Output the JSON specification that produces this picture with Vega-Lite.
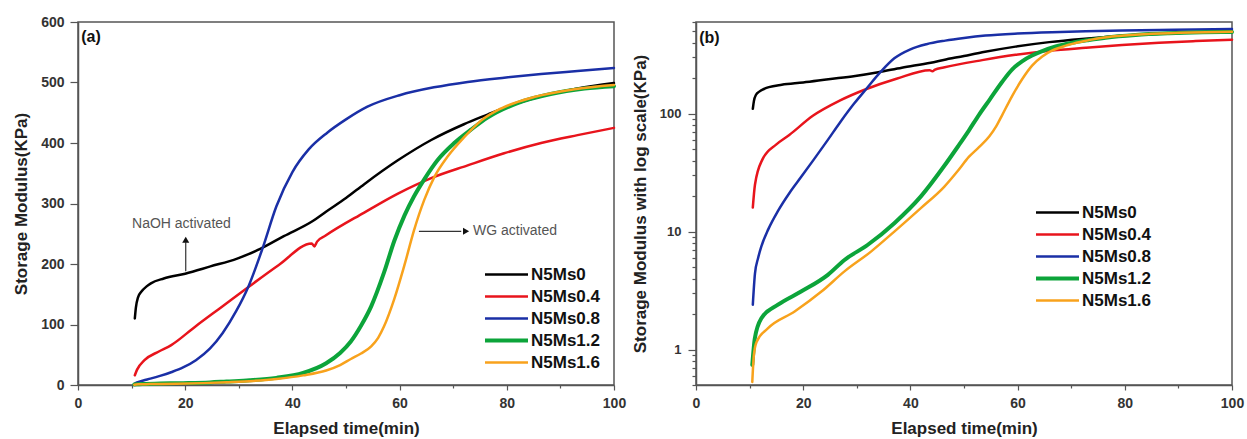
{
  "$schema": "https://vega.github.io/schema/vega-lite/v6.json",
  "padding": {"left": 11, "top": 14, "right": 0, "bottom": 2},
  "spacing": 3,
  "background": "white",
  "config": {
    "font": "Liberation Sans",
    "view": {"stroke": "#555", "strokeWidth": 1.5},
    "axis": {
      "grid": false,
      "domainColor": "#555",
      "domainWidth": 1.5,
      "tickColor": "#555",
      "tickWidth": 1.2,
      "labelFont": "Liberation Sans",
      "labelFontWeight": "bold",
      "labelFontSize": 14,
      "labelColor": "#333",
      "labelFlush": false,
      "labelOverlap": false,
      "titleFont": "Liberation Sans",
      "titleFontWeight": "bold",
      "titleFontSize": 17,
      "titleColor": "#222"
    },
    "legend": {
      "orient": "none",
      "title": null,
      "symbolType": "stroke",
      "symbolSize": 1849,
      "symbolStrokeWidth": 2.5,
      "labelFont": "Liberation Sans",
      "labelFontWeight": "bold",
      "labelFontSize": 17,
      "labelColor": "#111",
      "labelOffset": 16,
      "rowPadding": 4,
      "padding": 0
    }
  },
  "datasets": {
    "curves": [
      {"series": "N5Ms0", "t": 10.6, "v": 110},
      {"series": "N5Ms0", "t": 10.8, "v": 128},
      {"series": "N5Ms0", "t": 11.2, "v": 145},
      {"series": "N5Ms0", "t": 11.8, "v": 154},
      {"series": "N5Ms0", "t": 12.8, "v": 163},
      {"series": "N5Ms0", "t": 13.6, "v": 168},
      {"series": "N5Ms0", "t": 16, "v": 176},
      {"series": "N5Ms0", "t": 20, "v": 184},
      {"series": "N5Ms0", "t": 24.7, "v": 196},
      {"series": "N5Ms0", "t": 29.7, "v": 209},
      {"series": "N5Ms0", "t": 34, "v": 225},
      {"series": "N5Ms0", "t": 38.4, "v": 246},
      {"series": "N5Ms0", "t": 43.8, "v": 271},
      {"series": "N5Ms0", "t": 46.2, "v": 286},
      {"series": "N5Ms0", "t": 50, "v": 309},
      {"series": "N5Ms0", "t": 53.4, "v": 332},
      {"series": "N5Ms0", "t": 59.6, "v": 371},
      {"series": "N5Ms0", "t": 65.9, "v": 405},
      {"series": "N5Ms0", "t": 72, "v": 431},
      {"series": "N5Ms0", "t": 76.4, "v": 447},
      {"series": "N5Ms0", "t": 79.5, "v": 458},
      {"series": "N5Ms0", "t": 86.4, "v": 477},
      {"series": "N5Ms0", "t": 93.2, "v": 490},
      {"series": "N5Ms0", "t": 100, "v": 499},

      {"series": "N5Ms0.4", "t": 10.6, "v": 16},
      {"series": "N5Ms0.4", "t": 11, "v": 25},
      {"series": "N5Ms0.4", "t": 12.4, "v": 41},
      {"series": "N5Ms0.4", "t": 15, "v": 55},
      {"series": "N5Ms0.4", "t": 17.4, "v": 66},
      {"series": "N5Ms0.4", "t": 21.8, "v": 96},
      {"series": "N5Ms0.4", "t": 26.8, "v": 129},
      {"series": "N5Ms0.4", "t": 31.8, "v": 162},
      {"series": "N5Ms0.4", "t": 37.4, "v": 198},
      {"series": "N5Ms0.4", "t": 43.6, "v": 234},
      {"series": "N5Ms0.4", "t": 44.1, "v": 229},
      {"series": "N5Ms0.4", "t": 44.6, "v": 237},
      {"series": "N5Ms0.4", "t": 46.2, "v": 247},
      {"series": "N5Ms0.4", "t": 53.4, "v": 285},
      {"series": "N5Ms0.4", "t": 59.6, "v": 316},
      {"series": "N5Ms0.4", "t": 65.9, "v": 342},
      {"series": "N5Ms0.4", "t": 72.7, "v": 363},
      {"series": "N5Ms0.4", "t": 79.5, "v": 383},
      {"series": "N5Ms0.4", "t": 86.4, "v": 400},
      {"series": "N5Ms0.4", "t": 93.2, "v": 413},
      {"series": "N5Ms0.4", "t": 100, "v": 425},

      {"series": "N5Ms0.8", "t": 10.6, "v": 2.4},
      {"series": "N5Ms0.8", "t": 11, "v": 4.4},
      {"series": "N5Ms0.8", "t": 11.6, "v": 6},
      {"series": "N5Ms0.8", "t": 12.2, "v": 7.5},
      {"series": "N5Ms0.8", "t": 13.5, "v": 10.5},
      {"series": "N5Ms0.8", "t": 15.3, "v": 15},
      {"series": "N5Ms0.8", "t": 17.5, "v": 21.5},
      {"series": "N5Ms0.8", "t": 19.6, "v": 29},
      {"series": "N5Ms0.8", "t": 22, "v": 41},
      {"series": "N5Ms0.8", "t": 24.6, "v": 60},
      {"series": "N5Ms0.8", "t": 27, "v": 86},
      {"series": "N5Ms0.8", "t": 29.5, "v": 122},
      {"series": "N5Ms0.8", "t": 31.8, "v": 163},
      {"series": "N5Ms0.8", "t": 34.4, "v": 225},
      {"series": "N5Ms0.8", "t": 37, "v": 295},
      {"series": "N5Ms0.8", "t": 40, "v": 352},
      {"series": "N5Ms0.8", "t": 43, "v": 389},
      {"series": "N5Ms0.8", "t": 46.5, "v": 417},
      {"series": "N5Ms0.8", "t": 50, "v": 439},
      {"series": "N5Ms0.8", "t": 54, "v": 460},
      {"series": "N5Ms0.8", "t": 60, "v": 479},
      {"series": "N5Ms0.8", "t": 66.4, "v": 492},
      {"series": "N5Ms0.8", "t": 72.7, "v": 501},
      {"series": "N5Ms0.8", "t": 79.5, "v": 508},
      {"series": "N5Ms0.8", "t": 86.4, "v": 514},
      {"series": "N5Ms0.8", "t": 93.2, "v": 519},
      {"series": "N5Ms0.8", "t": 100, "v": 524},

      {"series": "N5Ms1.2", "t": 10.5, "v": 0.74},
      {"series": "N5Ms1.2", "t": 10.97, "v": 1.24},
      {"series": "N5Ms1.2", "t": 12.2, "v": 1.84},
      {"series": "N5Ms1.2", "t": 15.3, "v": 2.4},
      {"series": "N5Ms1.2", "t": 19.6, "v": 3.1},
      {"series": "N5Ms1.2", "t": 24.6, "v": 4.3},
      {"series": "N5Ms1.2", "t": 27.7, "v": 5.75},
      {"series": "N5Ms1.2", "t": 32, "v": 7.7},
      {"series": "N5Ms1.2", "t": 37, "v": 11.8},
      {"series": "N5Ms1.2", "t": 42, "v": 20},
      {"series": "N5Ms1.2", "t": 46.3, "v": 36},
      {"series": "N5Ms1.2", "t": 48.9, "v": 53},
      {"series": "N5Ms1.2", "t": 50.9, "v": 72},
      {"series": "N5Ms1.2", "t": 52.8, "v": 98},
      {"series": "N5Ms1.2", "t": 54.7, "v": 130},
      {"series": "N5Ms1.2", "t": 57.1, "v": 186},
      {"series": "N5Ms1.2", "t": 59, "v": 238},
      {"series": "N5Ms1.2", "t": 60.9, "v": 280},
      {"series": "N5Ms1.2", "t": 62.7, "v": 312},
      {"series": "N5Ms1.2", "t": 64.6, "v": 340},
      {"series": "N5Ms1.2", "t": 67.1, "v": 372},
      {"series": "N5Ms1.2", "t": 70.2, "v": 400},
      {"series": "N5Ms1.2", "t": 73.3, "v": 422},
      {"series": "N5Ms1.2", "t": 76.4, "v": 442},
      {"series": "N5Ms1.2", "t": 82, "v": 466},
      {"series": "N5Ms1.2", "t": 88.2, "v": 481},
      {"series": "N5Ms1.2", "t": 94.5, "v": 490},
      {"series": "N5Ms1.2", "t": 100, "v": 494},

      {"series": "N5Ms1.6", "t": 10.5, "v": 0.53},
      {"series": "N5Ms1.6", "t": 10.8, "v": 0.9},
      {"series": "N5Ms1.6", "t": 11.3, "v": 1.16},
      {"series": "N5Ms1.6", "t": 13.4, "v": 1.51},
      {"series": "N5Ms1.6", "t": 18.4, "v": 2.1},
      {"series": "N5Ms1.6", "t": 23.4, "v": 3.1},
      {"series": "N5Ms1.6", "t": 27.7, "v": 4.6},
      {"series": "N5Ms1.6", "t": 32.7, "v": 6.8},
      {"series": "N5Ms1.6", "t": 37, "v": 10},
      {"series": "N5Ms1.6", "t": 42, "v": 15.9},
      {"series": "N5Ms1.6", "t": 46.3, "v": 24},
      {"series": "N5Ms1.6", "t": 48.9, "v": 33},
      {"series": "N5Ms1.6", "t": 50.9, "v": 43},
      {"series": "N5Ms1.6", "t": 52.8, "v": 52},
      {"series": "N5Ms1.6", "t": 54.7, "v": 64},
      {"series": "N5Ms1.6", "t": 56, "v": 78},
      {"series": "N5Ms1.6", "t": 57.1, "v": 97},
      {"series": "N5Ms1.6", "t": 59, "v": 142},
      {"series": "N5Ms1.6", "t": 60.9, "v": 198},
      {"series": "N5Ms1.6", "t": 62.7, "v": 256},
      {"series": "N5Ms1.6", "t": 64.6, "v": 306},
      {"series": "N5Ms1.6", "t": 66.5, "v": 344},
      {"series": "N5Ms1.6", "t": 69, "v": 378},
      {"series": "N5Ms1.6", "t": 72.1, "v": 410},
      {"series": "N5Ms1.6", "t": 75.2, "v": 437},
      {"series": "N5Ms1.6", "t": 78.9, "v": 457},
      {"series": "N5Ms1.6", "t": 85.1, "v": 476},
      {"series": "N5Ms1.6", "t": 92.6, "v": 489},
      {"series": "N5Ms1.6", "t": 100, "v": 496}
    ],
    "labelsA": [
      {"t": 0.6, "v": 575, "text": "(a)", "kind": "panel"},
      {"t": 19.3, "v": 266, "text": "NaOH activated", "kind": "note"},
      {"t": 73.7, "v": 254, "text": "WG activated", "kind": "noteLeft"}
    ],
    "arrowsA": [
      {"t": 20.1, "v": 188, "t2": 20.1, "v2": 236, "ht": 20.1, "hv": 240, "shape": "triangle-up"},
      {"t": 63.6, "v": 254, "t2": 71.5, "v2": 254, "ht": 72.4, "hv": 254, "shape": "triangle-right"}
    ],
    "labelsB": [
      {"t": 0.6, "v": 443, "text": "(b)"}
    ]
  },
  "resolve": {
    "scale": {"color": "independent"},
    "legend": {"color": "independent"}
  },
  "hconcat": [
    {
      "width": 536,
      "height": 363,
      "layer": [
        {
          "data": {"name": "curves"},
          "mark": {"type": "line", "interpolate": "monotone", "strokeCap": "round"},
          "encoding": {
            "x": {
              "field": "t", "type": "quantitative",
              "scale": {"domain": [0, 100], "nice": false},
              "axis": {
                "title": "Elapsed time(min)",
                "values": [0, 10, 20, 30, 40, 50, 60, 70, 80, 90, 100],
                "labelExpr": "datum.value % 20 === 0 ? datum.label : ''",
                "tickSize": {"condition": {"test": "datum.value % 20 === 0", "value": 5}, "value": 3},
                "labelPadding": 6,
                "titlePadding": 10
              }
            },
            "y": {
              "field": "v", "type": "quantitative",
              "scale": {"domain": [0, 600], "nice": false},
              "axis": {
                "title": "Storage Modulus(KPa)",
                "values": [0, 50, 100, 150, 200, 250, 300, 350, 400, 450, 500, 550, 600],
                "labelExpr": "datum.value % 100 === 0 ? datum.label : ''",
                "tickSize": {"condition": {"test": "datum.value % 100 === 0", "value": 8}, "value": 5},
                "labelPadding": 6,
                "titlePadding": 10
              }
            },
            "color": {
              "field": "series", "type": "nominal",
              "scale": {
                "domain": ["N5Ms0", "N5Ms0.4", "N5Ms0.8", "N5Ms1.2", "N5Ms1.6"],
                "range": ["#000000", "#e8141c", "#1a2fa6", "#0ca43a", "#f8a21c"]
              },
              "legend": {
                "legendX": 420,
                "legendY": 244,
                "encode": {"symbols": {"update": {"strokeWidth": {"signal": "datum.value === 'N5Ms1.2' ? 4 : 2.5"}}}}
              }
            },
            "strokeWidth": {"condition": {"test": "datum.series === 'N5Ms1.2'", "value": 4}, "value": 2.5}
          }
        },
        {
          "data": {"name": "arrowsA"},
          "mark": {"type": "rule", "color": "#333", "strokeWidth": 1.2},
          "encoding": {
            "x": {"field": "t", "type": "quantitative"},
            "y": {"field": "v", "type": "quantitative"},
            "x2": {"field": "t2"},
            "y2": {"field": "v2"}
          }
        },
        {
          "data": {"name": "arrowsA"},
          "mark": {"type": "point", "filled": true, "color": "#111", "size": 50, "opacity": 1},
          "encoding": {
            "x": {"field": "ht", "type": "quantitative"},
            "y": {"field": "hv", "type": "quantitative"},
            "shape": {"field": "shape", "type": "nominal", "scale": null, "legend": null}
          }
        },
        {
          "data": {"name": "labelsA"},
          "transform": [{"filter": "datum.kind === 'panel'"}],
          "mark": {"type": "text", "align": "left", "baseline": "middle", "fontSize": 16, "fontWeight": "bold", "color": "#111"},
          "encoding": {
            "x": {"field": "t", "type": "quantitative"},
            "y": {"field": "v", "type": "quantitative"},
            "text": {"field": "text"}
          }
        },
        {
          "data": {"name": "labelsA"},
          "transform": [{"filter": "datum.kind === 'note'"}],
          "mark": {"type": "text", "align": "center", "baseline": "middle", "fontSize": 14, "color": "#555"},
          "encoding": {
            "x": {"field": "t", "type": "quantitative"},
            "y": {"field": "v", "type": "quantitative"},
            "text": {"field": "text"}
          }
        },
        {
          "data": {"name": "labelsA"},
          "transform": [{"filter": "datum.kind === 'noteLeft'"}],
          "mark": {"type": "text", "align": "left", "baseline": "middle", "fontSize": 14, "color": "#555"},
          "encoding": {
            "x": {"field": "t", "type": "quantitative"},
            "y": {"field": "v", "type": "quantitative"},
            "text": {"field": "text"}
          }
        }
      ]
    },
    {
      "width": 536,
      "height": 363,
      "layer": [
        {
          "data": {"name": "curves"},
          "mark": {"type": "line", "interpolate": "monotone", "strokeCap": "round"},
          "encoding": {
            "x": {
              "field": "t", "type": "quantitative",
              "scale": {"domain": [0, 100], "nice": false},
              "axis": {
                "title": "Elapsed time(min)",
                "values": [0, 10, 20, 30, 40, 50, 60, 70, 80, 90, 100],
                "labelExpr": "datum.value % 20 === 0 ? datum.label : ''",
                "tickSize": {"condition": {"test": "datum.value % 20 === 0", "value": 5}, "value": 3},
                "labelPadding": 6,
                "titlePadding": 10
              }
            },
            "y": {
              "field": "v", "type": "quantitative",
              "scale": {"type": "log", "domain": [0.5, 600], "nice": false},
              "axis": {
                "title": "Storage Modulus with log scale(KPa)",
                "values": [0.5, 0.6, 0.7, 0.8, 0.9, 1, 2, 3, 4, 5, 6, 7, 8, 9, 10, 20, 30, 40, 50, 60, 70, 80, 90, 100, 200, 300, 400, 500, 600],
                "format": "~g",
                "labelExpr": "(datum.value === 1 || datum.value === 10 || datum.value === 100) ? datum.label : ''",
                "tickSize": {"condition": {"test": "datum.value === 1 || datum.value === 10 || datum.value === 100", "value": 8}, "value": 4},
                "labelFontSize": 13,
                "labelPadding": 7,
                "titlePadding": 10
              }
            },
            "color": {
              "field": "series", "type": "nominal",
              "scale": {
                "domain": ["N5Ms0", "N5Ms0.4", "N5Ms0.8", "N5Ms1.2", "N5Ms1.6"],
                "range": ["#000000", "#e8141c", "#1a2fa6", "#0ca43a", "#f8a21c"]
              },
              "legend": {
                "legendX": 353,
                "legendY": 182,
                "encode": {"symbols": {"update": {"strokeWidth": {"signal": "datum.value === 'N5Ms1.2' ? 4 : 2.5"}}}}
              }
            },
            "strokeWidth": {"condition": {"test": "datum.series === 'N5Ms1.2'", "value": 4}, "value": 2.5}
          }
        },
        {
          "data": {"name": "labelsB"},
          "mark": {"type": "text", "align": "left", "baseline": "middle", "fontSize": 16, "fontWeight": "bold", "color": "#111"},
          "encoding": {
            "x": {"field": "t", "type": "quantitative"},
            "y": {"field": "v", "type": "quantitative"},
            "text": {"field": "text"}
          }
        }
      ]
    }
  ]
}
